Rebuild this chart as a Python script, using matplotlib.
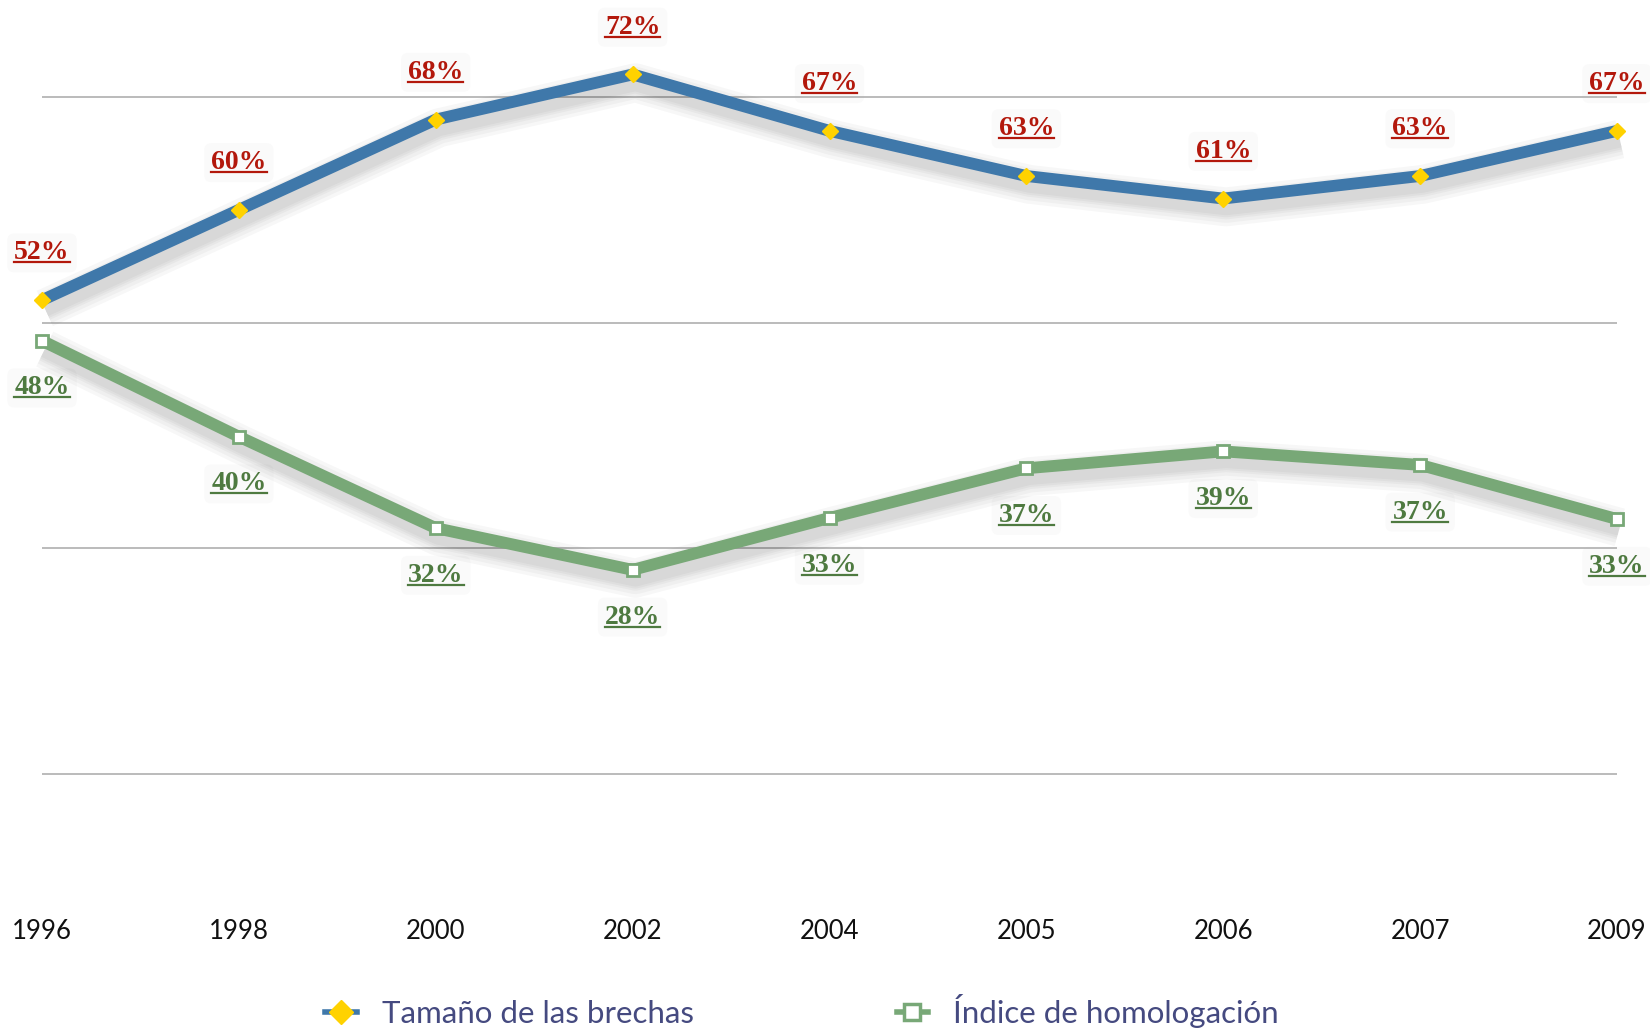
import matplotlib
matplotlib.use("Agg")
import matplotlib.pyplot as plt
import matplotlib.patheffects as pe
from matplotlib.lines import Line2D

years = ["1996", "1998", "2000", "2002", "2004", "2005", "2006", "2007", "2009"]
brechas = [52, 60, 68, 72, 67, 63, 61, 63, 67]
homologacion = [48.4, 39.9, 31.8, 28.1, 32.7, 37.1, 38.6, 37.4, 32.6]
gridvals = [10, 30, 50, 70]
series_names = ["Tamaño de las brechas", "Índice de homologación"]

BLUE = "#3f78aa"
GREEN = "#78a877"
YELLOW = "#ffd200"
RED = "#b3180c"
DGREEN = "#4e7a40"
LEGTXT = "#454a80"

fig = plt.figure(figsize=(16.5, 10.3), dpi=100)
ax = fig.add_axes([42/1650, 1 - 887/1030, (1617-42)/1650, (887-6.7)/1030])
x = list(range(len(years)))

for g in gridvals:
    ax.axhline(g, color="#b5b5b5", lw=1.3, zorder=1)

shadow = [pe.SimpleLineShadow(offset=(2, -6), shadow_color="#000000", alpha=0.03, linewidth=w)
          for w in (28, 23, 18, 15, 12)] + [pe.Normal()]

ax.plot(x, brechas, color=BLUE, lw=8.5, solid_capstyle="butt", zorder=3,
        path_effects=shadow, clip_on=False)
ax.plot(x, brechas, ls="none", marker="D", ms=8.5, mfc=YELLOW, mec=YELLOW, zorder=4, clip_on=False)
ax.plot(x, homologacion, color=GREEN, lw=8.5, solid_capstyle="butt", zorder=3,
        path_effects=shadow, clip_on=False)
ax.plot(x, homologacion, ls="none", marker="s", ms=8, mfc="white", mec=GREEN, mew=2,
        zorder=4, clip_on=False)

box = dict(boxstyle="round,pad=0.25", fc="#fafafa", ec="none")
labels = []
for xi, v in zip(x, brechas):
    t = ax.annotate("%.0f%%" % v, (xi, v), xytext=(0, 34),
                    textcoords="offset points", ha="center", va="center",
                    fontsize=20, fontweight="bold", family="Liberation Serif",
                    color=RED, zorder=0.5, annotation_clip=False, bbox=box)
    labels.append((t, RED))
for xi, v in zip(x, homologacion):
    t = ax.annotate("%.0f%%" % v, (xi, v), xytext=(0, -34),
                    textcoords="offset points", ha="center", va="center",
                    fontsize=20, fontweight="bold", family="Liberation Serif",
                    color=DGREEN, zorder=0.5, annotation_clip=False, bbox=box)
    labels.append((t, DGREEN))

ax.set_xlim(0, len(years) - 1)
ax.set_ylim(0, 78)
ax.set_xticks(x)
ax.set_xticklabels(years, fontsize=18.5, family="Lato", color="#111111")
ax.tick_params(axis="x", length=0, pad=23)
ax.set_yticks([])
for s in ax.spines.values():
    s.set_visible(False)

handles = [
    Line2D([0], [0], color=BLUE, lw=4, marker="D", ms=12, mfc=YELLOW, mec=YELLOW),
    Line2D([0], [0], color=GREEN, lw=4, marker="s", ms=11, mfc="white", mec=GREEN, mew=2.5),
]
leg = fig.legend(handles, series_names, loc="center", bbox_to_anchor=(0.486, 0.0184),
                 ncol=2, frameon=False, handlelength=1.0, handletextpad=0.8,
                 columnspacing=6.5, borderpad=0, prop={"family": "Lato", "size": 22.5})
for t in leg.get_texts():
    t.set_color(LEGTXT)

# underline the value labels
fig.canvas.draw()
r = fig.canvas.get_renderer()
inv = fig.transFigure.inverted()
for t, c in labels:
    bb = t.get_window_extent(r)
    y0 = bb.y0 + 3
    (fx0, fy), (fx1, _) = inv.transform([(bb.x0, y0), (bb.x1, y0)])
    fig.add_artist(Line2D([fx0, fx1], [fy, fy], color=c, lw=1.6, transform=fig.transFigure,
                          zorder=6))

fig.savefig("out.png", dpi=100, facecolor="white")
